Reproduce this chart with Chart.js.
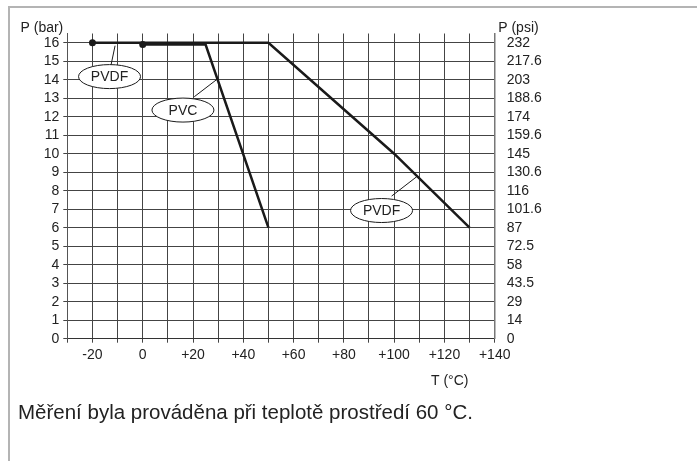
<!DOCTYPE html>
<html>
<head>
<meta charset="utf-8">
<script src="https://cdn.jsdelivr.net/npm/chart.js@4"></script>
<style>
  html, body { margin: 0; padding: 0; background: #fff; }
  #wrap { position: relative; width: 697px; height: 461px; overflow: hidden; }
  #frame { position: absolute; left: 8px; top: 6px; right: -4px; bottom: -4px;
           border-top: 2px solid #b4b4b4; border-left: 2px solid #b4b4b4; }
  #chart { position: absolute; left: 0; top: 0; }
  #caption { position: absolute; left: 18px; top: 400px; font: 20.5px "Liberation Sans", Arial, sans-serif;
             color: #222; line-height: 24px; white-space: nowrap; }
</style>
</head>
<body>
<div id="wrap">
  <div id="frame"></div>
  <canvas id="chart" width="697" height="461"></canvas>
  <div id="caption">Měření byla prováděna při teplotě prostředí 60 °C.</div>
</div>
<script>
// values
var pvdfTemp = [-20, 50, 100, 130];
var pvdfBar = [16, 16, 10, 6];
var pvcTemp = [0, 25, 50];
var pvcBar = [15.9, 15.9, 6];
var psiTicks = ["0", "14", "29", "43.5", "58", "72.5", "87", "101.6", "116", "130.6",
                "145", "159.6", "174", "188.6", "203", "217.6", "232"];

var FONT = '"Liberation Sans", Arial, sans-serif';
var INK = "#1a1a1a";
var GRID = "#444";

function toPoints(xs, ys) {
  return xs.map(function (x, i) { return { x: x, y: ys[i] }; });
}

// ellipse tags with leader lines, placed in data units
var tags = [
  { text: "PVDF", t: -13.2, p: 14.17, from: [-12.6, 14.8], to: [-11.0, 15.84] },
  { text: "PVC", t: 16.0, p: 12.36, from: [20.5, 13.08], to: [30.1, 14.08] },
  { text: "PVDF", t: 95.0, p: 6.93, from: [99.0, 7.71], to: [109.0, 8.76] }
];

var tagPlugin = {
  id: "tags",
  afterDatasetsDraw: function (chart) {
    var ctx = chart.ctx;
    var xs = chart.scales.x, ys = chart.scales.y;
    ctx.save();
    ctx.strokeStyle = INK;
    ctx.lineWidth = 1;
    tags.forEach(function (tg) {
      ctx.beginPath();
      ctx.moveTo(xs.getPixelForValue(tg.from[0]), ys.getPixelForValue(tg.from[1]));
      ctx.lineTo(xs.getPixelForValue(tg.to[0]), ys.getPixelForValue(tg.to[1]));
      ctx.stroke();
    });
    tags.forEach(function (tg) {
      var cx = xs.getPixelForValue(tg.t), cy = ys.getPixelForValue(tg.p);
      ctx.beginPath();
      ctx.ellipse(cx, cy, 31, 12, 0, 0, Math.PI * 2);
      ctx.fillStyle = "#fff";
      ctx.fill();
      ctx.stroke();
      ctx.fillStyle = "#222";
      ctx.font = "14px " + FONT;
      ctx.textAlign = "center";
      ctx.textBaseline = "middle";
      ctx.fillText(tg.text, cx, cy + 1);
    });
    ctx.restore();
  },
  afterDraw: function (chart) {
    var ctx = chart.ctx;
    var area = chart.chartArea;
    ctx.save();
    ctx.fillStyle = "#222";
    ctx.font = "14px " + FONT;
    ctx.textBaseline = "alphabetic";
    ctx.textAlign = "left";
    ctx.fillText("P (bar)", 20.5, area.top - 1.5);
    ctx.fillText("P (psi)", area.right + 3.5, area.top - 1.5);
    ctx.fillText("T (°C)", 431, area.bottom + 46);
    ctx.restore();
  }
};

var ctx = document.getElementById("chart").getContext("2d");
var myChart = new Chart(ctx, {
  type: "scatter",
  data: {
    datasets: [
      {
        label: "PVDF",
        data: toPoints(pvdfTemp, pvdfBar),
        showLine: true,
        borderColor: INK,
        backgroundColor: INK,
        borderWidth: 2.5,
        pointRadius: [3.5, 0, 0, 0],
        pointBorderWidth: 0,
      },
      {
        label: "PVC",
        data: toPoints(pvcTemp, pvcBar),
        showLine: true,
        borderColor: INK,
        backgroundColor: INK,
        borderWidth: 2.5,
        pointRadius: [3.5, 0, 0],
        pointBorderWidth: 0,
      },
    ],
  },
  options: {
    responsive: false,
    animation: false,
    devicePixelRatio: 1,
    layout: { padding: { left: 20, top: 33.5, right: 142.3, bottom: 90.3 } },
    plugins: { legend: { display: false }, tooltip: { enabled: false } },
    scales: {
      x: {
        type: "linear",
        position: "bottom",
        min: -30,
        max: 140,
        ticks: {
          stepSize: 10,
          autoSkip: false,
          maxRotation: 0,
          padding: 4,
          color: "#222",
          font: { size: 14, family: FONT },
          callback: function (v) {
            if (v % 20 !== 0 || v < -20) return "";
            return v > 0 ? "+" + v : String(v);
          },
        },
        grid: { color: GRID, lineWidth: 1, tickLength: 4 },
        border: { display: true, color: "#333", width: 1 },
        afterFit: function (s) { s.height = 32; },
      },
      y: {
        position: "left",
        min: 0,
        max: 16.5,
        ticks: {
          stepSize: 1,
          autoSkip: false,
          includeBounds: false,
          padding: 4,
          color: "#222",
          font: { size: 14, family: FONT },
        },
        grid: { color: GRID, lineWidth: 1, tickLength: 4 },
        border: { display: true, color: "#555", width: 1 },
        afterFit: function (s) { s.width = 47.3; },
      },
      y2: {
        position: "right",
        min: 0,
        max: 16.5,
        ticks: {
          stepSize: 1,
          autoSkip: false,
          includeBounds: false,
          padding: 4,
          color: "#222",
          font: { size: 14, family: FONT },
          callback: function (v) {
            return Number.isInteger(v) ? psiTicks[v] : "";
          },
        },
        grid: { display: false },
        border: { display: true, color: "#777", width: 1.5 },
        afterFit: function (s) { s.width = 60; },
      },
    },
  },
  plugins: [tagPlugin],
});
</script>
</body>
</html>
